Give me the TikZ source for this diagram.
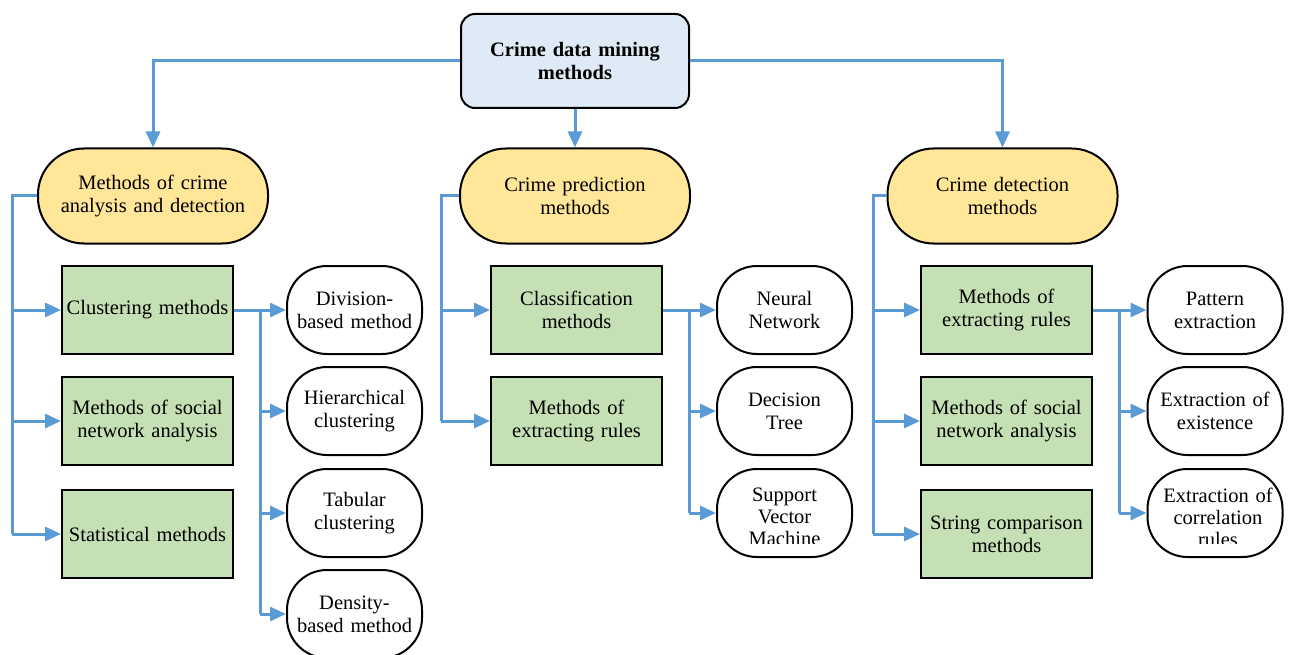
\documentclass[tikz,border=0pt]{standalone}
\usepackage{fontspec}
\setmainfont{Liberation Serif}
\usetikzlibrary{arrows.meta}
\definecolor{lineblue}{HTML}{5B9BD5}
\definecolor{rootblue}{HTML}{DEEBF7}
\definecolor{yel}{HTML}{FFE699}
\definecolor{grn}{HTML}{C5E0B4}
\tikzset{
  base/.style={draw=black, line width=2pt, align=center, inner sep=0pt, text width=130pt,
    font=\fontsize{20.5}{23}\selectfont},
  rootbox/.style={base, fill=rootblue, rounded corners=14pt, minimum width=228pt, minimum height=94pt,
    font=\fontsize{20.5}{23}\selectfont\bfseries, text width=210pt},
  ybox/.style={base, fill=yel, rounded corners=46pt, minimum width=230pt, minimum height=95pt, text width=220pt},
  gbox/.style={base, fill=grn, minimum width=171pt, minimum height=88pt, text width=171pt},
  wbox/.style={base, fill=white, rounded corners=40pt, minimum width=135pt, minimum height=88pt, text width=135pt},
  wtext/.style={align=center, inner sep=0pt, text width=135pt, font=\fontsize{20.5}{22}\selectfont},
  conn/.style={draw=lineblue, line width=3pt},
  arr/.style={conn, -{Triangle[length=16pt,width=14pt]}},
}
\begin{document}
\begin{tikzpicture}[x=1pt,y=-1pt]
\useasboundingbox (0,0) rectangle (1290,655);
% root
\node[rootbox] (root) at (575,61) {Crime data mining\\methods};
% level 1
\node[ybox] (y1) at (153,196) {Methods of crime\\analysis and detection};
\node[ybox] (y2) at (575,196) {Crime prediction\\methods};
\node[ybox] (y3) at (1002.5,196) {Crime detection\\methods};
% level 2
\node[gbox] (g11) at (147.5,310) {Clustering methods};
\node[gbox] (g12) at (147.5,421) {Methods of social\\network analysis};
\node[gbox] (g13) at (147.5,534) {Statistical methods};
\node[gbox] (g21) at (576.5,310) {Classification\\methods};
\node[gbox] (g22) at (576.5,421) {Methods of\\extracting rules};
\node[gbox] (g31) at (1006.5,310) {Methods of\\extracting rules};
\node[gbox] (g32) at (1006.5,421) {Methods of social\\network analysis};
\node[gbox] (g33) at (1006.5,534) {String comparison\\methods};
% level 3
\node[wbox] (w11) at (354.5,310) {Division-\\based method};
\node[wbox] (w12) at (354.5,411) {Hierarchical\\clustering};
\node[wbox] (w13) at (354.5,513) {Tabular\\clustering};
\node[wbox] (w14) at (354.5,614) {Density-\\based method};
\node[wbox] (w21) at (784.5,310) {Neural\\Network};
\node[wbox] (w22) at (784.5,411) {Decision\\Tree};
\node[wbox] (w23) at (784.5,513) {};
\node[wbox] (w31) at (1215,310) {Pattern\\extraction};
\node[wbox] (w32) at (1215,411) {Extraction of\\existence};
\node[wbox] (w33) at (1215,513) {};
\begin{scope}
  \clip (700,470) rectangle (870,543);
  \node[wtext] (t23) at (784.5,517) {Support\\Vector\\Machine};
\end{scope}
\begin{scope}
  \clip (1140,470) rectangle (1290,543);
  \node[wtext] (t33) at (1218,517) {Extraction of\\correlation\\rules};
\end{scope}
% coordinates for trunks
\coordinate (k1) at (12,0);
\coordinate (k2) at (441,0);
\coordinate (k3) at (873,0);
\coordinate (c1) at (260,0);
\coordinate (c2) at (689,0);
\coordinate (c3) at (1119,0);
% root connectors
\draw[arr] (root.west) -| (y1.north);
\draw[arr] (root.east) -| (y3.north);
\draw[arr] (root.south) -- (y2.north);
% level 1 trunks
\draw[conn] (y1.west) -| (k1 |- g13.west);
\draw[conn] (y2.west) -| (k2 |- g22.west);
\draw[conn] (y3.west) -| (k3 |- g33.west);
\foreach \g/\k in {g11/k1,g12/k1,g13/k1,g21/k2,g22/k2,g31/k3,g32/k3,g33/k3}
  \draw[arr] (\k |- \g.west) -- (\g.west);
% level 2 trunks
\draw[conn] (g11.east) -- (c1 |- g11.east) -- (c1 |- w14.west);
\draw[conn] (g21.east) -- (c2 |- g21.east) -- (c2 |- w23.west);
\draw[conn] (g31.east) -- (c3 |- g31.east) -- (c3 |- w33.west);
\draw[arr] (g11.east) -- (w11.west);
\draw[arr] (g21.east) -- (w21.west);
\draw[arr] (g31.east) -- (w31.west);
\foreach \w/\c in {w12/c1,w13/c1,w14/c1,w22/c2,w23/c2,w32/c3,w33/c3}
  \draw[arr] (\c |- \w.west) -- (\w.west);
\end{tikzpicture}
\end{document}
